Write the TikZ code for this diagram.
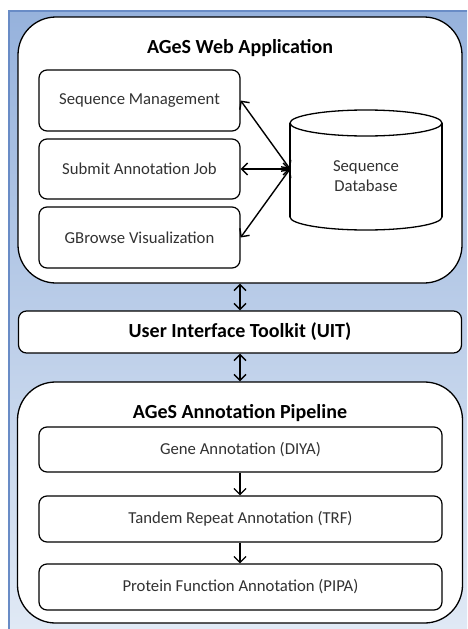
\documentclass[tikz,border=0pt]{standalone}
\usepackage{fontspec}
\setmainfont{Carlito}
\usetikzlibrary{arrows.meta}
\definecolor{bgtop}{RGB}{150,178,220}
\definecolor{bgbot}{RGB}{224,233,245}
\definecolor{bgline}{RGB}{105,140,198}
\definecolor{txt}{RGB}{50,50,50}
\begin{document}
\begin{tikzpicture}[x=1pt,y=-1pt,
  outer/.style={draw=black,line width=1.3pt,fill=white,rounded corners=38pt,inner sep=0pt},
  bar/.style={draw=black,line width=1.2pt,fill=white,rounded corners=8pt,inner sep=0pt,font=\fontsize{20}{24}\selectfont\bfseries},
  inner/.style={draw=black,line width=1.2pt,fill=white,rounded corners=8pt,inner sep=0pt,text=txt,font=\fontsize{16.7}{20}\selectfont},
  ttl/.style={font=\fontsize{20}{24}\selectfont\bfseries},
  dbtext/.style={text=txt,font=\fontsize{16.7}{20}\selectfont,align=center},
  conn/.style={line width=1.4pt,{Straight Barb[length=6pt,width=12pt]}-{Straight Barb[length=6pt,width=12pt]}},
  flow/.style={line width=1.3pt,-{Straight Barb[length=6pt,width=12pt]}}]
\useasboundingbox (0,0) rectangle (467,629);
% background panel
\shade[top color=bgtop,bottom color=bgbot] (8,10) rectangle (467,629);
\draw[bgline,line width=1.5pt] (8.75,629) -- (8.75,10.75) -- (467,10.75);
% containers
\node[outer,minimum width=444pt,minimum height=266pt] (web) at (240,150) {};
\node[ttl] (webt) at (240,48) {AGeS Web Application};
\node[bar,minimum width=443pt,minimum height=42pt] (uit) at (240,332) {User Interface Toolkit (UIT)};
\node[outer,minimum width=445pt,minimum height=241pt] (pipe) at (240,502.5) {};
\node[ttl] (pipet) at (240,413) {AGeS Annotation Pipeline};
% web app boxes
\node[inner,minimum width=201pt,minimum height=61pt] (sm) at (139.5,100.5) {Sequence Management};
\node[inner,minimum width=201pt,minimum height=60pt] (sj) at (139.5,169) {Submit Annotation Job};
\node[inner,minimum width=201pt,minimum height=61pt] (gb) at (139.5,237.5) {GBrowse Visualization};
% database cylinder
\draw[line width=1.3pt,fill=white] (366,217) ellipse [x radius=76pt,y radius=13pt];
\fill[white] (290,123) rectangle (442,217);
\draw[line width=1.3pt] (290,123) -- (290,217) (442,123) -- (442,217);
\draw[line width=1.3pt,fill=white] (366,123) ellipse [x radius=76pt,y radius=13pt];
\node[dbtext] (db) at (366,176) {Sequence\\Database};
\coordinate (dbl) at (290,169);
\coordinate (cx) at (240,0);
% pipeline boxes
\node[inner,minimum width=403pt,minimum height=45pt] (gene) at (240.5,449.5) {Gene Annotation (DIYA)};
\node[inner,minimum width=403pt,minimum height=46pt] (trf) at (240.5,519) {Tandem Repeat Annotation (TRF)};
\node[inner,minimum width=403pt,minimum height=46pt] (pipa) at (240.5,587) {Protein Function Annotation (PIPA)};
% connectors
\draw[conn] (dbl) -- (sm.east);
\draw[conn] (dbl) -- (sj.east);
\draw[conn] (dbl) -- (gb.east);
\draw[conn] (web.south) -- (uit.north);
\draw[conn] (uit.south) -- (pipe.north);
\draw[flow] (gene.south -| cx) -- (trf.north -| cx);
\draw[flow] (trf.south -| cx) -- (pipa.north -| cx);
\end{tikzpicture}
\end{document}
